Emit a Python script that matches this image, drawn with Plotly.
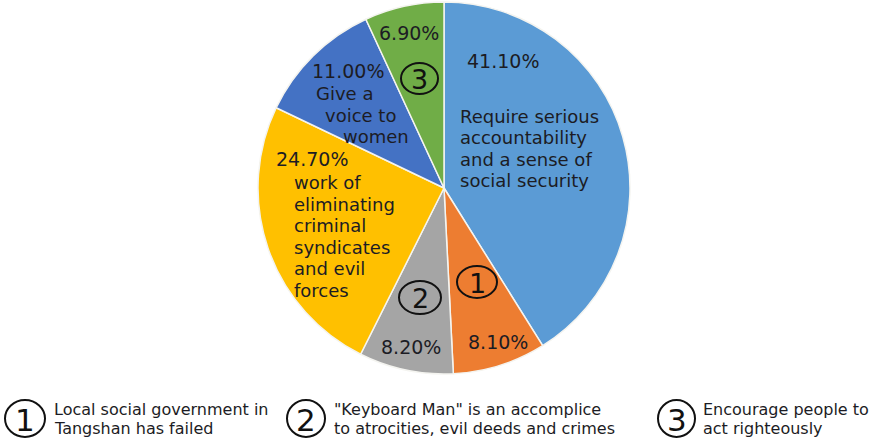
import plotly.graph_objects as go

W, H = 877, 438

# ---- data ----
labels = [
    "Require serious accountability and a sense of social security",
    "Local social government in Tangshan has failed",
    "\"Keyboard Man\" is an accomplice to atrocities, evil deeds and crimes",
    "work of eliminating criminal syndicates and evil forces",
    "Give a voice to women",
    "Encourage people to act righteously",
]
values = [41.10, 8.10, 8.20, 24.70, 11.00, 6.90]
colors = ["#5B9BD5", "#ED7D31", "#A5A5A5", "#FFC000", "#4472C4", "#70AD47"]
pct_labels = ["41.10%", "8.10%", "8.20%", "24.70%", "11.00%", "6.90%"]

legend_nums = ["1", "2", "3"]
legend_texts = [
    ["Local social government in", "Tangshan has failed"],
    ["\"Keyboard Man\" is an accomplice", "to atrocities, evil deeds and crimes"],
    ["Encourage people to", "act righteously"],
]

FONT = "DejaVu Sans"
TXT = "#1c1c24"


def px(x):
    return x / W


def py(y):
    return 1 - y / H


# pie geometry (pixels)
cx, cy, r = 444, 188, 186

fig = go.Figure()
fig.add_trace(go.Pie(
    labels=labels,
    values=values,
    sort=False,
    direction="clockwise",
    rotation=0,
    marker=dict(colors=colors, line=dict(color="#f4f4f0", width=1.5)),
    textinfo="none",
    hoverinfo="label+percent",
    showlegend=False,
    domain=dict(x=[px(cx - r), px(cx + r)], y=[py(cy + r), py(cy - r)]),
))

annotations = []
shapes = []


def add_text(text, x, y, size=19, xanchor="center", color=TXT):
    annotations.append(dict(
        text=text, x=px(x), y=py(y), xref="paper", yref="paper",
        xanchor=xanchor, yanchor="middle", showarrow=False, borderpad=0,
        font=dict(family=FONT, size=size, color=color),
    ))


def add_block(lines, x, y0, step, size=18, xanchor="left"):
    for i, line in enumerate(lines):
        add_text(line, x, y0 + i * step, size=size, xanchor=xanchor)


def add_circled(num, x0, y0, x1, y1, size):
    shapes.append(dict(
        type="circle", xref="paper", yref="paper",
        x0=px(x0), x1=px(x1), y0=py(y1), y1=py(y0),
        line=dict(color="#111111", width=2), fillcolor="rgba(0,0,0,0)",
    ))
    add_text(num, (x0 + x1) / 2, (y0 + y1) / 2 + 1, size=size, color="#111111")


# percentage labels inside slices
add_text(pct_labels[0], 503.5, 61)
add_text(pct_labels[1], 497.5, 342)
add_text(pct_labels[2], 411, 347)
add_text(pct_labels[3], 311.5, 159)
add_text(pct_labels[4], 347.5, 71)
add_text(pct_labels[5], 408.5, 33)

# category texts inside slices
STEP = 21.5
add_block(["Require serious", "accountability", "and a sense of", "social security"],
          459, 116.5, STEP)
add_block(["work of", "eliminating", "criminal", "syndicates", "and evil", "forces"],
          293, 182.5, STEP)
add_text("Give a", 344, 93.5, size=18)
add_text("voice to", 360, 93.5 + STEP, size=18)
add_text("women", 376, 93.5 + 2 * STEP, size=18)

# circled numbers inside slices
add_circled("1", 457, 266, 497, 298, 27)
add_circled("2", 399, 281, 441, 314, 27)
add_circled("3", 401, 63, 438, 94, 27)

# bottom legend
legend_circles = [(5, 400, 45, 437), (287, 400, 325, 437), (658, 400, 695, 437)]
legend_text_x = [53, 333, 702]
for num, (a, b, c, d), tx, lines in zip(legend_nums, legend_circles, legend_text_x, legend_texts):
    add_circled(num, a, b, c, d, 31)
    add_block(lines, tx, 409, 19, size=16)

fig.update_layout(
    width=W, height=H,
    margin=dict(l=0, r=0, t=0, b=0),
    paper_bgcolor="white",
    plot_bgcolor="white",
    annotations=annotations,
    shapes=shapes,
    showlegend=False,
)

fig.write_html("out.html")
